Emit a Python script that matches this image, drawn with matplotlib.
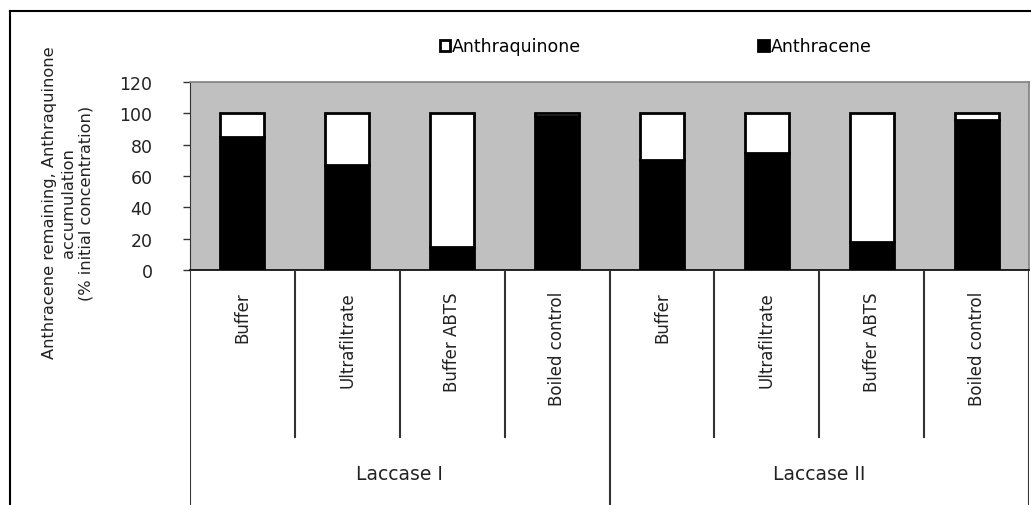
import matplotlib
matplotlib.use("Agg")
import matplotlib.pyplot as plt
from matplotlib.lines import Line2D

plt.rcParams['font.family'] = ['DejaVu Sans']

groups = ["Laccase I", "Laccase II"]
categories = ["Buffer", "Ultrafiltrate", "Buffer ABTS", "Boiled control",
              "Buffer", "Ultrafiltrate", "Buffer ABTS", "Boiled control"]
anthracene = [85, 67, 15, 98, 70, 75, 18, 96]
anthraquinone = [15, 33, 85, 2, 30, 25, 82, 4]
yticks = [0, 20, 40, 60, 80, 100, 120]

W, H = 1031, 506
fig = plt.figure(figsize=(W / 100, H / 100), dpi=100)

def fx(px):
    return px / W

def fy(py):
    return 1 - py / H

left_px, right_px, top_px, base_px = 190, 1029, 83, 271
ax = fig.add_axes([fx(left_px), fy(base_px), fx(right_px - left_px), (base_px - top_px) / H])
ax.set_facecolor('#c0c0c0')
x = list(range(len(categories)))
bw = 0.42
b1 = ax.bar(x, anthracene, width=bw, color='black', edgecolor='black', linewidth=2,
            label='Anthracene', zorder=3)
b2 = ax.bar(x, anthraquinone, width=bw, bottom=anthracene, color='white', edgecolor='black',
            linewidth=2, label='Anthraquinone', zorder=3)
ax.set_xlim(-0.5, len(categories) - 0.5)
ax.set_ylim(0, 120)
ax.set_yticks(yticks)
ax.set_yticklabels([str(t) for t in yticks], fontsize=12.5, color='#222222')
ax.tick_params(axis='y', direction='out', length=5, width=1, pad=22, color='#333333')
ax.set_xticks([])
for s in ['top', 'right']:
    ax.spines[s].set_color('#808080')
    ax.spines[s].set_linewidth(1.2)
ax.spines['left'].set_color('#333333')
ax.spines['bottom'].set_color('black')
ax.spines['bottom'].set_linewidth(1.2)

# legend
leg = ax.legend(handles=[b2, b1], ncol=2, loc='center', bbox_to_anchor=(0.555, 1.19),
                frameon=False, fontsize=12.5, handlelength=0.6, handleheight=0.6,
                handletextpad=0.1, columnspacing=10.2, borderaxespad=0)

# hierarchical category axis
xa = fig.add_axes([fx(left_px), 0, fx(right_px - left_px), fy(base_px)])
xa.set_xlim(-0.5, len(categories) - 0.5)
xa.set_ylim(0, 1)
xa.axis('off')
n_per = len(categories) // len(groups)
for k in range(1, len(categories)):
    if k % n_per == 0:
        xa.axvline(k - 0.5, ymin=0, ymax=1, color='#333333', lw=1.5)
    else:
        xa.axvline(k - 0.5, ymin=0.289, ymax=1, color='#333333', lw=1.5)
xa.axvline(-0.5, color='#333333', lw=1.5)
xa.axvline(len(categories) - 0.5, color='#333333', lw=1.5)
for i, c in enumerate(categories):
    xa.text(i, 0.91, c, rotation=90, ha='center', va='top', fontsize=12, color='#222222')
for g, name in enumerate(groups):
    xa.text(g * n_per + (n_per - 1) / 2, 0.136, name, ha='center', va='center',
            fontsize=13.5, color='#222222')

# y label
fig.text(fx(68), fy(203),
         "Anthracene remaining, Anthraquinone\naccumulation\n(% initial concentration)",
         rotation=90, ha='center', va='center', multialignment='center',
         fontsize=11.7, linespacing=1.25, color='#222222')

# outer frame
fig.add_artist(Line2D([fx(10), fx(10)], [fy(12), 0], color='black', lw=1.5))
fig.add_artist(Line2D([fx(10), 1], [fy(12), fy(12)], color='black', lw=1.5))

fig.savefig('out.png', dpi=100)
